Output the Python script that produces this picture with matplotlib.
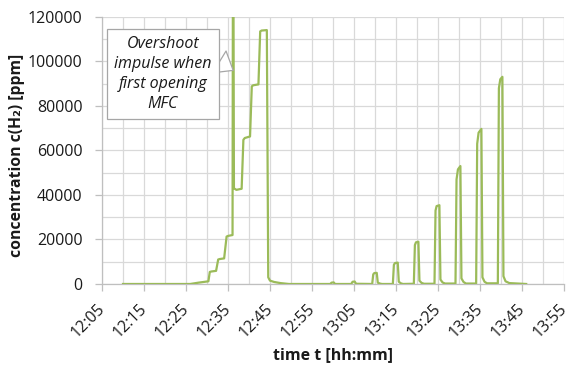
import matplotlib
matplotlib.use("Agg")
import matplotlib.pyplot as plt
import matplotlib.dates as mdates
from matplotlib.ticker import MultipleLocator, StrMethodFormatter
import pandas as pd

plt.rcParams['font.family'] = ['Open Sans', 'DejaVu Sans']

DAY = "2000-01-01 "

# stepwise ramp of the MFC set point, including the overshoot when it first opens
step_times = ["12:10:00", "12:26:00", "12:28:00", "12:30:20", "12:30:40", "12:31:00",
              "12:32:10", "12:32:40", "12:33:00", "12:34:05", "12:34:40", "12:35:00",
              "12:36:05", "12:36:10", "12:36:18", "12:36:25", "12:37:00", "12:38:15",
              "12:38:40", "12:39:00", "12:40:15", "12:40:40", "12:41:00", "12:42:15",
              "12:42:40", "12:43:00", "12:44:15", "12:44:35", "12:45:00", "12:46:00",
              "12:47:30", "12:49:30"]
step_ppm = [0, 0, 600, 1200, 5400, 5600,
            5900, 11000, 11200, 11500, 21300, 21600,
            22000, 135000, 135000, 43000, 42300, 42800,
            64800, 65600, 66300, 88800, 89300, 89700,
            113500, 113900, 114100, 3000, 1500, 900,
            400, 0]

# single pulses of rising concentration
pulse_times = ["12:59:20", "12:59:40", "13:00:10", "13:00:30",
               "13:04:20", "13:04:40", "13:05:10", "13:05:30",
               "13:09:20", "13:09:35", "13:09:50", "13:10:25", "13:10:40", "13:11:10", "13:11:40",
               "13:14:15", "13:14:30", "13:14:45", "13:15:25", "13:15:40", "13:16:10", "13:16:40",
               "13:19:15", "13:19:30", "13:19:45", "13:20:20", "13:20:35", "13:21:05", "13:21:40",
               "13:24:10", "13:24:25", "13:24:40", "13:25:20", "13:25:35", "13:26:05", "13:26:40",
               "13:29:10", "13:29:25", "13:29:45", "13:30:20", "13:30:35", "13:31:05", "13:31:40",
               "13:34:05", "13:34:20", "13:34:40", "13:35:20", "13:35:35", "13:36:05", "13:36:40",
               "13:39:15", "13:39:30", "13:39:50", "13:40:20", "13:40:35", "13:41:05", "13:42:00",
               "13:46:00"]
pulse_ppm = [0, 600, 700, 0,
             0, 1000, 1100, 100,
             0, 4300, 4900, 5000, 600, 200, 0,
             0, 8600, 9400, 9600, 1000, 300, 0,
             100, 17500, 18700, 19000, 1500, 500, 100,
             100, 33000, 35000, 35400, 2000, 700, 200,
             200, 47000, 51500, 53000, 2500, 900, 200,
             200, 63000, 68000, 69700, 3000, 1000, 300,
             300, 88000, 92000, 93100, 3500, 1200, 400,
             0]

x_range = ["12:05", "13:55"]
y_max = 120000
note_text = "Overshoot\nimpulse when\nfirst opening\nMFC"
note_at = ("12:36:14", 96000)

times = pd.to_datetime([DAY + t for t in step_times + pulse_times])
ppm = step_ppm + pulse_ppm

fig = plt.figure(figsize=(5.72, 3.69), dpi=100)
ax = fig.add_axes([0.1783, 0.2304, 0.8077, 0.7236])

ax.plot(times, ppm, color='#9BBB59', lw=1.6, solid_joinstyle='round', zorder=3)

ax.set_xlim(pd.to_datetime(DAY + x_range[0]), pd.to_datetime(DAY + x_range[1]))
ax.set_ylim(0, y_max)

ax.xaxis.set_major_locator(mdates.MinuteLocator(byminute=[5, 15, 25, 35, 45, 55]))
ax.xaxis.set_minor_locator(mdates.MinuteLocator(byminute=range(0, 60, 5)))
ax.xaxis.set_major_formatter(mdates.DateFormatter('%H:%M'))
ax.yaxis.set_major_locator(MultipleLocator(20000))
ax.yaxis.set_minor_locator(MultipleLocator(10000))
ax.yaxis.set_major_formatter(StrMethodFormatter('{x:.0f}'))

ax.grid(which='both', color='#D9D9D9', lw=0.9, zorder=0)
ax.set_axisbelow(True)
for side in ['top', 'right']:
    ax.spines[side].set_visible(False)
for side in ['left', 'bottom']:
    ax.spines[side].set_color('#BFBFBF')
    ax.spines[side].set_linewidth(0.9)

ax.tick_params(which='major', length=5, width=0.9, color='#BFBFBF', labelsize=11.5, labelcolor='#1a1a1a')
ax.tick_params(which='minor', length=0)
ax.tick_params(axis='y', pad=9)
ax.tick_params(axis='x', pad=11)
for lbl in ax.get_xticklabels():
    lbl.set_rotation(45)
    lbl.set_ha('right')
    lbl.set_rotation_mode('anchor')
    lbl.set_va('center')

ax.set_xlabel("time t [hh:mm]", fontsize=11.5, fontweight='bold', color='#1a1a1a', labelpad=5)
ax.set_ylabel("concentration c(H\u2082) [ppm]", fontsize=11.3, fontweight='bold', color='#1a1a1a')
ax.yaxis.set_label_coords(-0.167, 0.483)

ax.annotate(note_text,
            xy=(mdates.date2num(pd.to_datetime(DAY + note_at[0])), note_at[1]), xycoords='data',
            xytext=(0.132, 0.787), textcoords='axes fraction',
            ha='center', va='center', fontsize=11.5, style='italic', color='#1a1a1a',
            linespacing=1.32,
            bbox=dict(boxstyle='square,pad=0.45', fc='white', ec='#A6A6A6', lw=0.9),
            arrowprops=dict(arrowstyle='wedge,tail_width=1.6,shrink_factor=0.5',
                            fc='white', ec='#A6A6A6', lw=0.9, relpos=(1.0, 0.72),
                            shrinkA=0, shrinkB=0),
            zorder=5)

fig.savefig("out.png", dpi=100)
